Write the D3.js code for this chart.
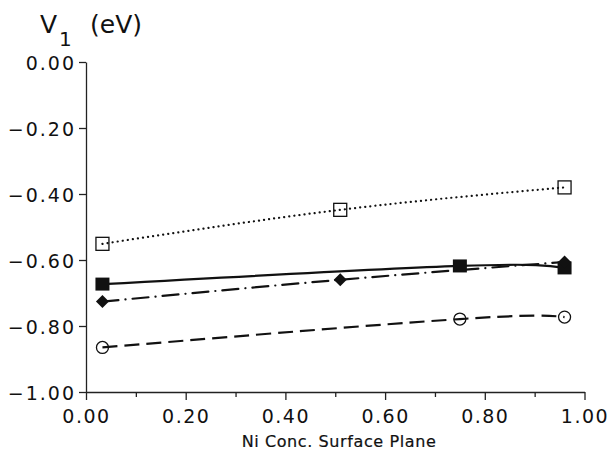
<!DOCTYPE html>
<html>
<head>
<meta charset="utf-8">
<script src="https://cdn.jsdelivr.net/npm/d3@7"></script>
<style>
  body { margin: 0; background: #fff; }
  svg text { font-family: "DejaVu Sans", sans-serif; fill: #111; }
</style>
</head>
<body>
<div id="chart"></div>
<script>
// values
const openSqX = [0.033, 0.51, 0.96];
const openSqY = [-0.551, -0.448, -0.38];
const fillSqX = [0.033, 0.75, 0.96];
const fillSqY = [-0.673, -0.618, -0.624];
const diamondX = [0.033, 0.51, 0.96];
const diamondY = [-0.726, -0.66, -0.606];
const circleX = [0.033, 0.75, 0.96];
const circleY = [-0.865, -0.779, -0.773];

const xTicks = [0, 0.2, 0.4, 0.6, 0.8, 1.0];
const xMinor = [0.1, 0.3, 0.5, 0.7, 0.9];
const yTicks = [0, -0.2, -0.4, -0.6, -0.8, -1.0];

const width = 610, height = 450;

const svg = d3.select("#chart")
  .append("svg")
    .attr("width", width)
    .attr("height", height);

const x = d3.scaleLinear().domain([0, 1]).range([86, 584.5]);
const y = d3.scaleLinear().domain([-1, 0]).range([392, 62]);

const fmt = d3.format(".2f");

// x axis
const xAxis = svg.append("g")
  .attr("transform", "translate(0," + y(-1) + ")")
  .call(d3.axisBottom(x).tickValues(xTicks).tickFormat(fmt).tickSize(8).tickSizeOuter(0).tickPadding(10));
xAxis.selectAll("text").style("font-size", "19px").style("letter-spacing", "1.5px");

svg.append("g")
  .attr("transform", "translate(0," + y(-1) + ")")
  .call(d3.axisBottom(x).tickValues(xMinor).tickFormat("").tickSize(5).tickSizeOuter(0))
  .select(".domain").remove();

// y axis
const yAxis = svg.append("g")
  .attr("transform", "translate(" + x(0) + ",0)")
  .call(d3.axisLeft(y).tickValues(yTicks).tickFormat(fmt).tickSize(7).tickSizeOuter(0).tickPadding(3));
yAxis.selectAll("text").style("font-size", "19px").style("letter-spacing", "2px").attr("dy", "0.42em");

svg.selectAll(".domain, .tick line").attr("stroke", "#222").attr("stroke-width", 1.3);

// axis titles
const t = svg.append("text").attr("x", 40).attr("y", 33).style("font-size", "25px");
t.append("tspan").text("V").style("letter-spacing", "2px");
t.append("tspan").text("1").attr("dy", 13).style("font-size", "20px");
t.append("tspan").text("(eV)").attr("x", 90).attr("dy", -13);

svg.append("text")
  .attr("x", 339).attr("y", 447)
  .attr("text-anchor", "middle")
  .style("font-size", "16px")
  .style("letter-spacing", "0.6px")
  .style("stroke", "#111").style("stroke-width", 0.2)
  .text("Ni Conc. Surface Plane");

// curves
const line = d3.line().x(d => x(d[0])).y(d => y(d[1])).curve(d3.curveNatural);
const series = [
  {xs: openSqX, ys: openSqY, dash: "0.1,5", cap: "round", w: 2.2},
  {xs: fillSqX, ys: fillSqY, dash: null, cap: "butt", w: 2.2},
  {xs: diamondX, ys: diamondY, dash: "16,7,0.1,7", cap: "round", w: 2.2},
  {xs: circleX, ys: circleY, dash: "15,7", cap: "butt", w: 2.2}
];
series.forEach(s => {
  svg.append("path")
    .datum(d3.zip(s.xs, s.ys))
    .attr("d", line)
    .attr("fill", "none")
    .attr("stroke", "#111")
    .attr("stroke-width", s.w)
    .attr("stroke-linecap", s.cap)
    .attr("stroke-dasharray", s.dash);
});

// markers
svg.append("g").selectAll("rect")
  .data(d3.zip(openSqX, openSqY))
  .join("rect")
    .attr("x", d => x(d[0]) - 6.5)
    .attr("y", d => y(d[1]) - 6.5)
    .attr("width", 13).attr("height", 13)
    .attr("fill", "none").attr("stroke", "#111").attr("stroke-width", 1.3);

svg.append("g").selectAll("rect")
  .data(d3.zip(fillSqX, fillSqY))
  .join("rect")
    .attr("x", d => x(d[0]) - 7)
    .attr("y", d => y(d[1]) - 6.5)
    .attr("width", 14).attr("height", 13)
    .attr("fill", "#111");

svg.append("g").selectAll("path")
  .data(d3.zip(diamondX, diamondY))
  .join("path")
    .attr("transform", d => "translate(" + x(d[0]) + "," + y(d[1]) + ")")
    .attr("d", "M0,-6.5L6.5,0L0,6.5L-6.5,0Z")
    .attr("fill", "#111");

svg.append("g").selectAll("circle")
  .data(d3.zip(circleX, circleY))
  .join("circle")
    .attr("cx", d => x(d[0]))
    .attr("cy", d => y(d[1]))
    .attr("r", 6)
    .attr("fill", "none").attr("stroke", "#111").attr("stroke-width", 1.3);
</script>
</body>
</html>
